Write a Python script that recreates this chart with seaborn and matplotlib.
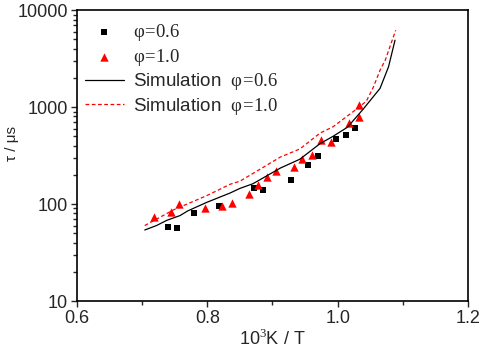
import matplotlib
matplotlib.use("Agg")
import matplotlib.pyplot as plt
import matplotlib.ticker as mticker
import seaborn as sns

# measured ignition delay
x_p06 = [0.740, 0.753, 0.779, 0.818, 0.872, 0.886, 0.928, 0.955, 0.970, 0.998, 1.013, 1.027]
y_p06 = [58, 57, 80, 95, 148, 138, 176, 250, 315, 464, 514, 602]

x_p10 = [0.718, 0.744, 0.757, 0.797, 0.822, 0.838, 0.864, 0.878, 0.891, 0.905, 0.933,
         0.946, 0.961, 0.975, 0.990, 1.018, 1.033, 1.033]
y_p10 = [74, 83, 100, 90, 96, 103, 127, 156, 188, 219, 239, 289, 320, 457, 440, 689, 794, 1050]

# simulation curves
sim_x06 = [0.704, 0.722, 0.738, 0.758, 0.770, 0.799, 0.835, 0.850, 0.870, 0.912, 0.942,
           0.973, 0.993, 1.015, 1.039, 1.065, 1.078, 1.088]
sim_y06 = [54, 60, 68, 76, 85, 104, 130, 145, 162, 235, 290, 420, 500, 620, 950, 1560, 2600, 4900]

sim_x10 = [0.704, 0.748, 0.799, 0.835, 0.850, 0.912, 0.942, 0.973, 0.993, 1.024, 1.044,
           1.055, 1.065, 1.073, 1.089]
sim_y10 = [60, 87, 122, 160, 172, 305, 370, 540, 627, 900, 1150, 1620, 2400, 3050, 6200]

sns.set_style("ticks")
plt.rcParams["font.family"] = ["Liberation Sans", "DejaVu Sans"]
plt.rcParams["mathtext.fontset"] = "custom"
plt.rcParams["mathtext.rm"] = "Liberation Serif"

fig = plt.figure(figsize=(4.84, 3.5), dpi=100)
ax = fig.add_axes([0.159, 0.14, 0.808, 0.831])

lab06 = r"$\mathrm{φ\!=\!0.6}$"
lab10 = r"$\mathrm{φ\!=\!1.0}$"

sns.scatterplot(x=x_p06, y=y_p06, ax=ax, marker="s", color="black", s=16,
                linewidth=0, label=lab06)
sns.scatterplot(x=x_p10, y=y_p10, ax=ax, marker="^", color="#ff0000", s=36,
                linewidth=0, label=lab10)
sns.lineplot(x=sim_x06, y=sim_y06, ax=ax, color="black", linewidth=0.9,
             sort=False, label="Simulation  " + lab06)
sns.lineplot(x=sim_x10, y=sim_y10, ax=ax, color="#ff0000", linewidth=0.9,
             linestyle=(0, (3, 2)), sort=False, label="Simulation  " + lab10)

ax.set_yscale("log")
ax.set_xlim(0.6, 1.2)
ax.set_ylim(10, 10000)
ax.xaxis.set_major_locator(mticker.FixedLocator([0.6, 0.8, 1.0, 1.2]))
ax.xaxis.set_minor_locator(mticker.FixedLocator([0.7, 0.9, 1.1]))
ax.xaxis.set_major_formatter(mticker.FormatStrFormatter("%.1f"))
ax.yaxis.set_major_locator(mticker.LogLocator(base=10))
ax.yaxis.set_major_formatter(mticker.FuncFormatter(lambda v, p: f"{v:.0f}"))
ax.yaxis.set_minor_locator(mticker.LogLocator(base=10, subs=range(2, 10)))
ax.yaxis.set_minor_formatter(mticker.NullFormatter())

ax.tick_params(which="major", direction="out", length=4.5, width=1, labelsize=13, pad=2)
ax.tick_params(which="minor", direction="out", length=3, width=1)
for sp in ax.spines.values():
    sp.set_visible(True)
    sp.set_linewidth(1.2)
    sp.set_color("black")

ax.set_xlabel("10$^{3}$K / T", fontsize=13, labelpad=1)
ax.set_ylabel("τ / μs", fontsize=11)
ax.yaxis.set_label_coords(-0.148, 0.54)

leg = ax.legend(loc="upper left", frameon=False, fontsize=13.5, handlelength=2.1,
                handletextpad=0.45, labelspacing=0.2, borderpad=0, borderaxespad=0,
                bbox_to_anchor=(0.02, 0.96))

fig.savefig("out.png", dpi=100)
